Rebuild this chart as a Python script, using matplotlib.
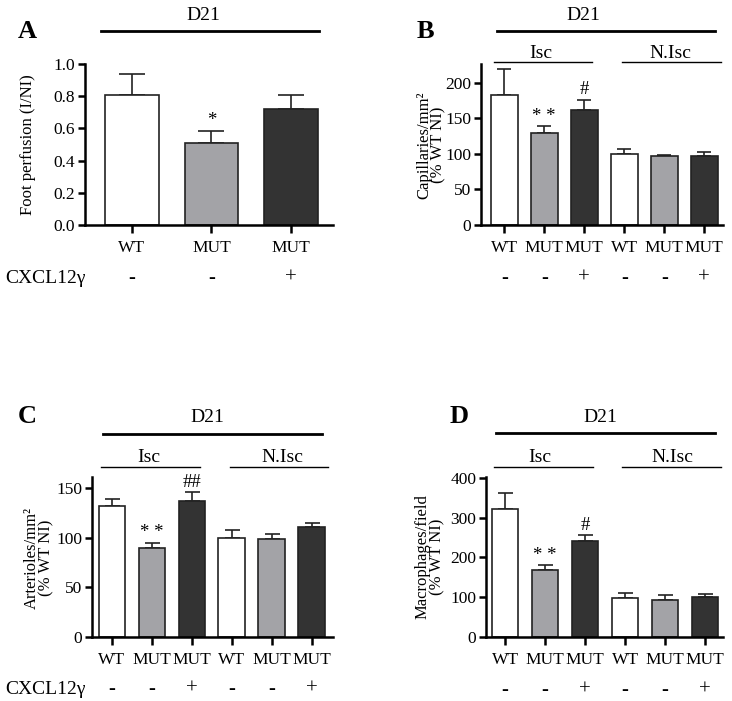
import matplotlib
matplotlib.use("Agg")
import matplotlib.pyplot as plt
import numpy as np
from matplotlib.lines import Line2D
from matplotlib.transforms import blended_transform_factory

plt.rcParams['font.family'] = ['Liberation Serif', 'DejaVu Serif']

# ---------------- data ----------------
groups_A = ["WT", "MUT", "MUT"]
signs_A = ["-", "-", "+"]
perf_mean = [0.81, 0.51, 0.72]
perf_err = [0.125, 0.075, 0.09]
perf_marks = ["", "*", ""]

groups = ["WT", "MUT", "MUT", "WT", "MUT", "MUT"]
signs = ["-", "-", "+", "-", "-", "+"]

cap_mean = [183, 129, 162, 100, 97, 97]
cap_err = [36, 10, 14, 6, 1, 5]
cap_marks = ["", "* *", "#", "", "", ""]

art_mean = [132, 90, 137, 100, 99, 111]
art_err = [7, 5, 9, 8, 5, 4]
art_marks = ["", "* *", "##", "", "", ""]

mac_mean = [321, 168, 241, 99, 93, 101]
mac_err = [40, 13, 15, 11, 12, 6]
mac_marks = ["", "* *", "#", "", "", ""]

yticks_A = [0.0, 0.2, 0.4, 0.6, 0.8, 1.0]
yticks_B = [0, 50, 100, 150, 200]
yticks_C = [0, 50, 100, 150]
yticks_D = [0, 100, 200, 300, 400]

# ---------------- style ----------------
W, H = 732, 701
fig = plt.figure(figsize=(W / 100, H / 100), dpi=100)
fill_cols = ["white", "#a3a3a7", "#333333"]
edge = "#222222"


def px_axes(l, t, r, b):
    return fig.add_axes([l / W, 1 - b / H, (r - l) / W, (b - t) / H])


def ftext(x, y, s, **kw):
    fig.text(x / W, 1 - y / H, s, ha="center", va="center", **kw)


def fline(x0, x1, y, lw):
    fig.add_artist(Line2D([x0 / W, x1 / W], [1 - y / H, 1 - y / H],
                          color="black", lw=lw, transform=fig.transFigure))


def draw(ax, means, errs, marks, labels, sgns, ylim, yticks, xlim,
         capsize, sign_base, fmt=None):
    n = len(means)
    x = np.arange(n)
    cols = [fill_cols[i % 3] for i in range(n)]
    ax.bar(x, means, width=0.67, color=cols, edgecolor=edge, linewidth=1.2,
           zorder=2)
    lower = np.zeros(n)
    ax.errorbar(x, means, yerr=[lower, errs], fmt="none", ecolor=edge,
                elinewidth=1.2, capsize=capsize, capthick=1.2, zorder=1)
    for xi, m, e, s in zip(x, means, errs, marks):
        if s:
            ax.annotate(s, (xi, m + e), xytext=(0, 1), textcoords="offset points",
                        ha="center", va="bottom", fontsize=13.5)
    ax.set_xlim(*xlim)
    ax.set_ylim(*ylim)
    ax.set_yticks(yticks)
    if fmt:
        ax.set_yticklabels([fmt.format(v) for v in yticks])
    ax.set_xticks(x)
    ax.set_xticklabels(labels, fontsize=12.5)
    for sp in ["top", "right"]:
        ax.spines[sp].set_visible(False)
    for sp in ["left", "bottom"]:
        ax.spines[sp].set_linewidth(1.8)
    ax.tick_params(axis="x", length=6, width=1.8, pad=5)
    ax.tick_params(axis="y", length=5, width=1.8, labelsize=12.5, pad=2)
    tr = blended_transform_factory(ax.transData, fig.transFigure)
    for xi, s in zip(x, sgns):
        ax.text(xi, 1 - sign_base / H, s, transform=tr, ha="center",
                va="baseline", fontsize=15)


# Panel A
axA = px_axes(85, 64, 333, 225)
draw(axA, perf_mean, perf_err, perf_marks, groups_A, signs_A, (0, 1.0),
     yticks_A, (-0.59, 2.53), 9.7, 283, fmt="{:.1f}")
ftext(28, 145, "Foot perfusion (I/NI)", rotation=90, fontsize=12)
ftext(27, 31, "A", fontsize=19, fontweight="bold")
ftext(203, 15, "D21", fontsize=14)
fline(101, 319, 31, 2.0)
fig.text(5 / W, 1 - 283 / H, "CXCL12γ", ha="left", va="baseline", fontsize=14)

# Panel B
axB = px_axes(481, 64, 723, 225)
draw(axB, cap_mean, cap_err, cap_marks, groups, signs, (0, 226),
     yticks_B, (-0.58, 5.47), 4.7, 283)
ftext(431, 145, "Capillaries/mm²\n(% WT NI)", rotation=90, fontsize=12,
      linespacing=0.85)
ftext(425, 31, "B", fontsize=19, fontweight="bold")
ftext(583, 15, "D21", fontsize=14)
fline(497, 715, 31, 2.0)
ftext(541, 53, "Isc", fontsize=14)
fline(494, 592, 62, 1.0)
ftext(670, 53, "N.Isc", fontsize=14)
fline(622, 721, 62, 1.0)

# Panel C
axC = px_axes(92, 477, 333, 637)
draw(axC, art_mean, art_err, art_marks, groups, signs, (0, 161),
     yticks_C, (-0.5, 5.53), 5.4, 694)
ftext(39, 558, "Arterioles/mm²\n(% WT NI)", rotation=90, fontsize=12,
      linespacing=0.85)
ftext(27, 416, "C", fontsize=19, fontweight="bold")
ftext(207, 417, "D21", fontsize=14)
fline(103, 322, 434, 2.0)
ftext(149, 457, "Isc", fontsize=14)
fline(101, 200, 467, 1.0)
ftext(282, 457, "N.Isc", fontsize=14)
fline(230, 328, 467, 1.0)
fig.text(5 / W, 1 - 694 / H, "CXCL12γ", ha="left", va="baseline", fontsize=14)

# Panel D
axD = px_axes(486, 477, 723, 637)
draw(axD, mac_mean, mac_err, mac_marks, groups, signs, (0, 402),
     yticks_D, (-0.475, 5.45), 5.4, 695)
ftext(430, 557, "Macrophages/field\n(% WT NI)", rotation=90, fontsize=12,
      linespacing=0.85)
ftext(459, 416, "D", fontsize=19, fontweight="bold")
ftext(600, 417, "D21", fontsize=14)
fline(496, 715, 433, 2.0)
ftext(540, 457, "Isc", fontsize=14)
fline(494, 593, 467, 1.0)
ftext(672, 457, "N.Isc", fontsize=14)
fline(622, 721, 467, 1.0)

fig.savefig("out.png", dpi=100)
